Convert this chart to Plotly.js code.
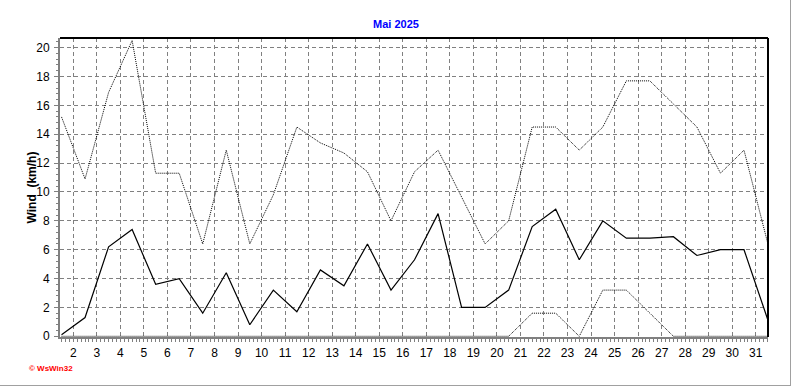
<!DOCTYPE html>
<html>
<head>
<meta charset="utf-8">
<script src="https://cdn.plot.ly/plotly-3.0.1.min.js"></script>
<style>
  html, body { margin: 0; padding: 0; background: #ffffff; }
  #wrap { position: relative; width: 792px; height: 387px; }
  #chart { width: 792px; height: 387px; }
  #frame { position: absolute; left: 0; top: 0; width: 790px; height: 385px;
           border-right: 1px solid #a0a0a0; border-bottom: 1px solid #a0a0a0; pointer-events: none; }
</style>
</head>
<body>
<div id="wrap">
  <div id="chart"></div>
  <div id="frame"></div>
</div>
<script>
// Days of May 2025
const days = [1,2,3,4,5,6,7,8,9,10,11,12,13,14,15,16,17,18,19,20,21,22,23,24,25,26,27,28,29,30,31];
// Average wind (km/h)
const windAvg = [0.1,1.3,6.2,7.4,3.6,4.0,1.6,4.4,0.8,3.2,1.7,4.6,3.5,6.4,3.2,5.3,8.5,2.0,2.0,3.2,7.6,8.8,5.3,8.0,6.8,6.8,6.9,5.6,6.0,6.0,1.2];
// Maximum wind (km/h)
const windMax = [15.2,10.9,16.9,20.5,11.3,11.3,6.4,12.9,6.4,9.8,14.5,13.4,12.7,11.4,8.0,11.4,12.9,9.7,6.4,8.0,14.5,14.5,12.9,14.5,17.7,17.7,16.1,14.5,11.3,12.9,6.5];
// Minimum wind (km/h)
const windMin = [0,0,0,0,0,0,0,0,0,0,0,0,0,0,0,0,0,0,0,0,1.6,1.6,0,3.2,3.2,1.6,0,0,0,0,0];
// X tick labels
const xTickVals = [2,3,4,5,6,7,8,9,10,11,12,13,14,15,16,17,18,19,20,21,22,23,24,25,26,27,28,29,30,31];
const xTickText = xTickVals.map(String);
const yTickVals = [0,2,4,6,8,10,12,14,16,18,20];

// each day's value is drawn at the middle of its day
const xPos = days.map(d => d + 0.5);

const traces = [
  { x: xPos, y: windMin, type: 'scatter', mode: 'lines', name: 'Min',
    line: { color: '#000000', width: 1, dash: '1px,1px' }, hoverinfo: 'skip' },
  { x: xPos, y: windMax, type: 'scatter', mode: 'lines', name: 'Max',
    line: { color: '#000000', width: 1, dash: '1px,1px' }, hoverinfo: 'skip' },
  { x: xPos, y: windAvg, type: 'scatter', mode: 'lines', name: 'Mittel',
    line: { color: '#000000', width: 1.2 }, hoverinfo: 'skip' }
];

const font = { family: 'Liberation Sans, Arial, sans-serif', size: 12, color: '#000000' };

const layout = {
  width: 792, height: 387,
  margin: { l: 60, r: 24, t: 38, b: 50, pad: 0 },
  paper_bgcolor: '#ffffff', plot_bgcolor: '#ffffff',
  showlegend: false,
  font: font,
  title: { text: '<b>Mai 2025</b>', font: { family: 'Liberation Sans, Arial, sans-serif', size: 11, color: '#0000ff' },
           x: 0.5, xref: 'container', xanchor: 'center', y: 1 - 24/387, yref: 'container', yanchor: 'middle' },
  xaxis: {
    range: [1.435, 31.52], tickmode: 'array', tickvals: xTickVals, ticktext: xTickText,
    showgrid: true, gridcolor: '#808080', gridwidth: 1, griddash: '4px,3px',
    zeroline: false, showline: true, linecolor: '#808080', linewidth: 2,
    ticks: 'outside', ticklen: 3, tickcolor: '#808080', tickwidth: 1, ticklabelstandoff: 1,
    minor: { dtick: 1/6, tick0: 0, ticks: 'outside', ticklen: 3, tickcolor: '#808080', showgrid: false },
    tickfont: font, fixedrange: true
  },
  yaxis: {
    range: [-0.05, 20.67], tickmode: 'array', tickvals: yTickVals,
    showgrid: true, gridcolor: '#808080', gridwidth: 1, griddash: '4px,3px',
    zeroline: false, showline: true, linecolor: '#808080', linewidth: 2,
    ticks: 'outside', ticklen: 4, tickcolor: '#808080', tickwidth: 1, ticklabelstandoff: 2,
    minor: { dtick: 0.4, tick0: 0, ticks: 'outside', ticklen: 2, tickcolor: '#808080', showgrid: false },
    tickfont: font, fixedrange: true
  },
  shapes: [
    { type: 'line', xref: 'paper', yref: 'paper', x0: 0, x1: 1, y0: 1, y1: 1,
      line: { color: '#000000', width: 2 } },
    { type: 'line', xref: 'paper', yref: 'paper', x0: 1, x1: 1, y0: 0, y1: 1,
      line: { color: '#000000', width: 2 } }
  ],
  annotations: [
    { text: '<b>Wind&nbsp;&nbsp;(km/h)</b>', xref: 'paper', yref: 'paper', x: -29/708, y: 0.5,
      xanchor: 'center', yanchor: 'middle', textangle: -90, showarrow: false,
      font: { family: 'Liberation Sans, Arial, sans-serif', size: 12, color: '#000000' } },
    { text: '<b>© WsWin32</b>', xref: 'paper', yref: 'paper', x: -33/708, y: -31/299,
      xanchor: 'left', yanchor: 'middle', showarrow: false,
      font: { family: 'Liberation Sans, Arial, sans-serif', size: 8, color: '#ff0000' } }
  ]
};

Plotly.newPlot('chart', traces, layout, { staticPlot: true, displayModeBar: false });
</script>
</body>
</html>
